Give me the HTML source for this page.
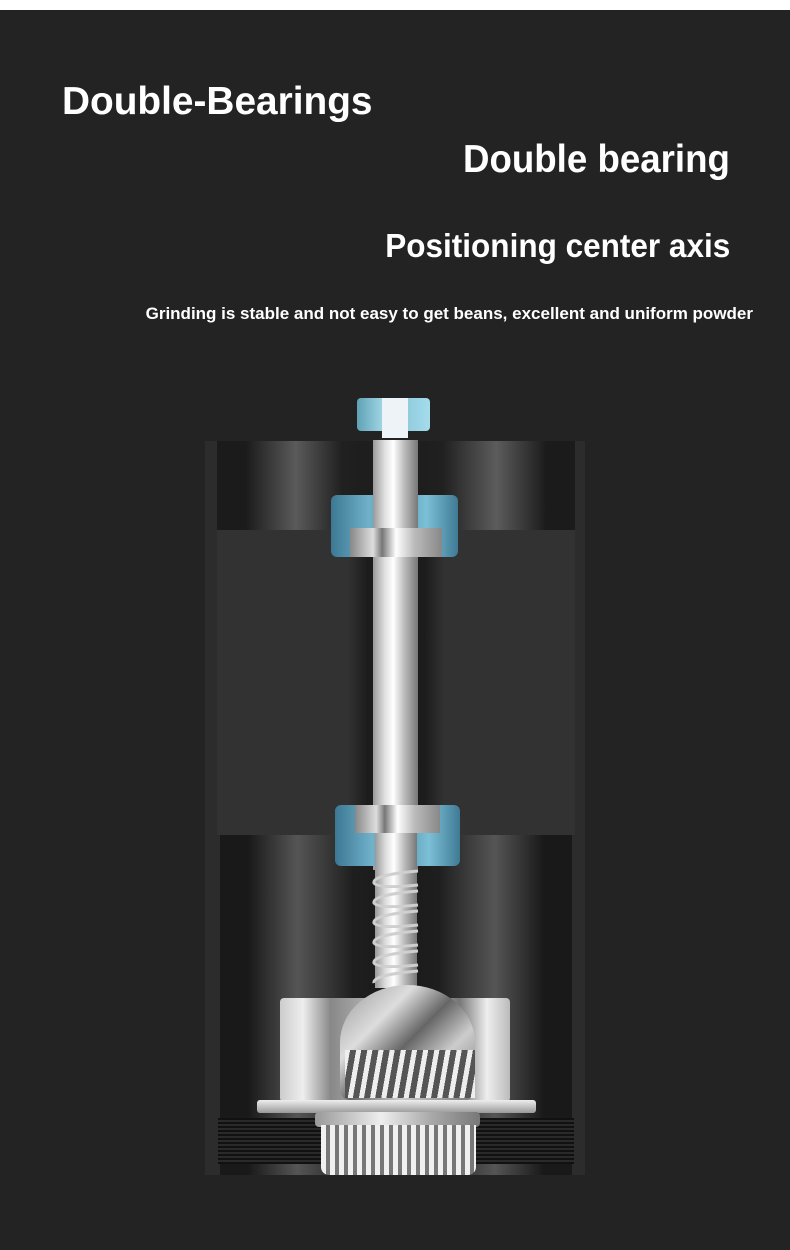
<!DOCTYPE html>
<html><head><meta charset="utf-8"><style>
*{margin:0;padding:0;box-sizing:border-box}
body{width:790px;height:1250px;background:#232323;position:relative;overflow:hidden;font-family:"Liberation Sans",sans-serif}
.a{position:absolute}
.t{position:absolute;color:#fff;font-weight:bold;white-space:nowrap;line-height:1}
</style></head><body>
<div class="a" style="left:0;top:0;width:790px;height:10px;background:#fff"></div>

<div class="t" style="left:62px;top:82px;font-size:39px;transform:scaleX(0.995);transform-origin:left">Double-Bearings</div>
<div class="t" style="right:60px;top:140px;font-size:39px;transform:scaleX(0.94);transform-origin:right">Double bearing</div>
<div class="t" style="right:60px;top:229px;font-size:33px;transform:scaleX(0.955);transform-origin:right">Positioning center axis</div>
<div class="t" style="right:37px;top:305px;font-size:17px;transform:scaleX(1.0);transform-origin:right">Grinding is stable and not easy to get beans, excellent and uniform powder</div>

<!-- body frame -->
<div class="a" style="left:205px;top:441px;width:380px;height:734px;background:#2c2c2c"></div>
<div class="a" style="left:217px;top:441px;width:358px;height:89px;background:linear-gradient(90deg,#1b1b1b 0%,#1b1b1b 8%,#5a5a5a 22%,#202020 35%,#1b1b1b 50%,#202020 63%,#5c5c5c 78%,#1b1b1b 92%)"></div>
<div class="a" style="left:217px;top:530px;width:358px;height:305px;background:#323232"></div>
<div class="a" style="left:348px;top:530px;width:96px;height:305px;background:linear-gradient(90deg,#323232,#1c1c1c 20%,#1c1c1c 80%,#323232)"></div>
<div class="a" style="left:220px;top:835px;width:352px;height:340px;background:linear-gradient(90deg,#191919 0%,#191919 8%,#555 22%,#1e1e1e 38%,#1a1a1a 50%,#1e1e1e 62%,#555 78%,#191919 92%)"></div>
<div class="a" style="left:218px;top:1118px;width:356px;height:46px;background:repeating-linear-gradient(180deg,#111 0 2px,#2a2a2a 2px 4px)"></div>

<!-- top cap -->
<div class="a" style="left:357px;top:398px;width:73px;height:33px;border-radius:4px;background:linear-gradient(90deg,#5fa2b6,#a9dcea 40%,#8cc8da 60%,#a4dceb)"></div>
<div class="a" style="left:382px;top:398px;width:26px;height:40px;background:#eef3f8"></div>

<!-- shaft -->
<div class="a" style="left:373px;top:440px;width:45px;height:430px;background:linear-gradient(90deg,#999,#ddd 25%,#fff 45%,#bbb 70%,#777)"></div>

<!-- upper bearing -->
<div class="a" style="left:331px;top:495px;width:127px;height:62px;border-radius:6px;background:linear-gradient(90deg,#3c7893,#71b2cb 30%,#4f90ab 50%,#7cc0d6 75%,#3f7a95)"></div>
<div class="a" style="left:350px;top:528px;width:92px;height:29px;background:linear-gradient(90deg,#888,#ddd 25%,#777 35%,#fff 50%,#bbb 70%,#888)"></div>
<div class="a" style="left:373px;top:495px;width:45px;height:33px;background:linear-gradient(90deg,#999,#ddd 25%,#fff 45%,#bbb 70%,#777)"></div>

<!-- lower bearing -->
<div class="a" style="left:335px;top:805px;width:125px;height:61px;border-radius:6px;background:linear-gradient(90deg,#3c7893,#71b2cb 30%,#4f90ab 50%,#7cc0d6 75%,#3f7a95)"></div>
<div class="a" style="left:355px;top:805px;width:85px;height:28px;background:linear-gradient(90deg,#888,#ddd 25%,#777 35%,#fff 50%,#bbb 70%,#888)"></div>
<div class="a" style="left:375px;top:833px;width:42px;height:155px;background:linear-gradient(90deg,#999,#ddd 25%,#fff 45%,#bbb 70%,#777)"></div>

<!-- spring -->
<svg class="a" style="left:368px;top:865px" width="56" height="125">
<g fill="none" stroke="#cfcfcf" stroke-width="3">
<path d="M50 6 Q4 10 6 18 Q10 24 50 20"/>
<path d="M50 26 Q4 30 6 38 Q10 44 50 40"/>
<path d="M50 46 Q4 50 6 58 Q10 64 50 60"/>
<path d="M50 66 Q4 70 6 78 Q10 84 50 80"/>
<path d="M50 86 Q4 90 6 98 Q10 104 50 100"/>
<path d="M50 106 Q4 110 6 118"/>
</g></svg>

<!-- burr -->
<div class="a" style="left:280px;top:998px;width:230px;height:104px;border-radius:4px;background:linear-gradient(90deg,#ccc,#eee 10%,#888 22%,#ccc 50%,#777 78%,#eee 90%,#bbb)"></div>
<div class="a" style="left:340px;top:985px;width:135px;height:115px;border-radius:50% 50% 10px 10px;background:linear-gradient(135deg,#999,#ddd 30%,#666 50%,#ccc 70%,#777)"></div>
<div class="a" style="left:345px;top:1050px;width:130px;height:48px;background:repeating-linear-gradient(100deg,#eee 0 5px,#555 5px 11px)"></div>
<div class="a" style="left:257px;top:1100px;width:279px;height:13px;border-radius:3px;background:linear-gradient(180deg,#eee,#999)"></div>
<div class="a" style="left:315px;top:1112px;width:165px;height:15px;border-radius:4px;background:linear-gradient(90deg,#999,#eee 40%,#aaa 70%,#777)"></div>
<div class="a" style="left:321px;top:1125px;width:155px;height:50px;border-radius:0 0 8px 8px;background:repeating-linear-gradient(90deg,#f0f0f0 0 5px,#777 5px 9px)"></div>
</body></html>
